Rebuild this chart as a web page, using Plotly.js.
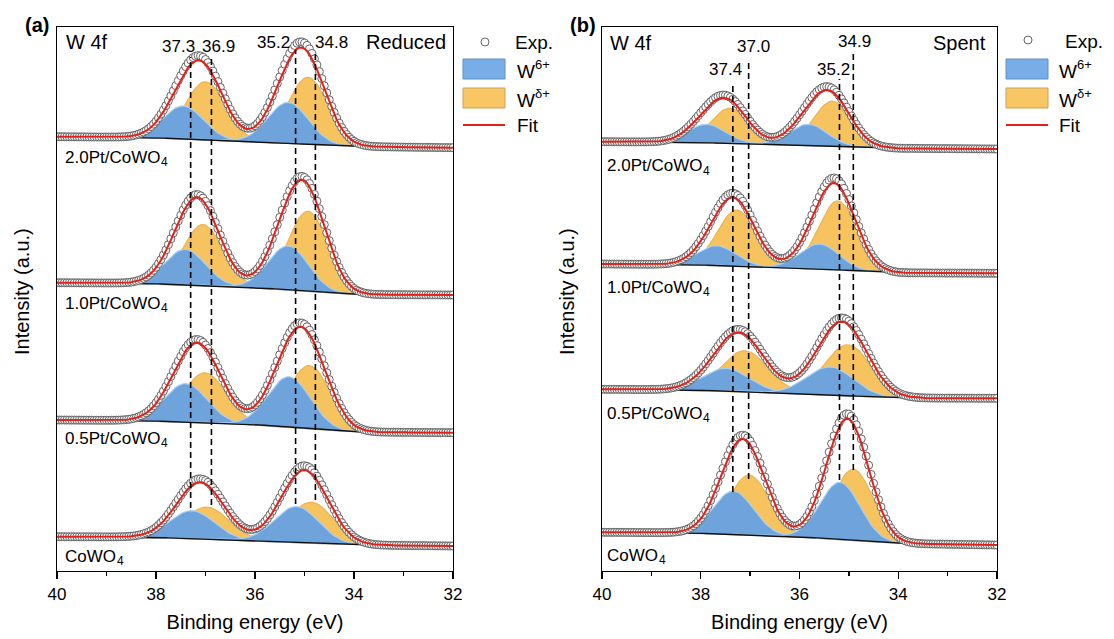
<!DOCTYPE html>
<html>
<head>
<meta charset="utf-8">
<script src="https://cdn.plot.ly/plotly-3.0.1.min.js"></script>
<style>
html,body{margin:0;padding:0;background:#ffffff;}
#chart{width:1114px;height:639px;}
</style>
</head>
<body>
<div id="chart"></div>
<script>
// ---------------- DATA ----------------
const energyStart = 40, energyEnd = 32, energyStep = 0.05;   // binding energy grid (eV)
const xTickVals = [40, 38, 36, 34, 32];
const xMinorTickVals = [39, 37, 35, 33];
const sampleNames = ['2.0Pt/CoWO', '1.0Pt/CoWO', '0.5Pt/CoWO', 'CoWO'];
const sampleSub = '4';
const legendNames = ['Exp.', 'W', 'W', 'Fit'];
const legendSups = ['', '6+', 'δ+', ''];
const bgEnergies = [40, 38.3, 36, 34, 32];

// Panel (a) Reduced : intensity in a.u. (stack offsets included)
const reducedBg = [
  [434.3, 433.7, 429.3, 424.5, 423.3],
  [288.3, 287.8, 283.5, 276.5, 276.0],
  [151.0, 150.5, 146.5, 139.0, 138.3],
  [34.3, 34.0, 30.3, 26.0, 25.0]
];
const reducedW6Pos = [[37.45, 35.33], [37.41, 35.33], [37.40, 35.31], [37.27, 35.16]];
const reducedW6Amp = [[33, 41], [35.6, 44], [38.5, 50.4], [28, 36]];
const reducedW5Pos = [[37.00, 34.93], [37.05, 34.93], [37.01, 34.90], [36.97, 34.86]];
const reducedW5Amp = [[58, 67], [61, 80], [50, 63], [32, 41]];
const reducedFwhm = [0.95, 0.95, 1.0, 1.05];
const reducedExpScale = [1.06, 1.03, 1.04, 1.06];
const reducedMarks = [37.3, 36.88, 35.18, 34.78];
const reducedMarkLabels = ['37.3', '36.9', '35.2', '34.8'];

// Panel (b) Spent
const spentBg = [
  [429.3, 428.8, 426.0, 422.7, 422.0],
  [307.0, 306.5, 303.0, 298.2, 297.7],
  [181.7, 181.2, 177.5, 173.0, 172.7],
  [38.7, 38.2, 34.3, 27.5, 26.0]
];
const spentW6Pos = [[37.88, 35.82], [37.68, 35.59], [37.49, 35.38], [37.34, 35.18]];
const spentW6Amp = [[18.4, 21], [19.7, 25], [22.8, 28], [43.4, 57.2]];
const spentW5Pos = [[37.41, 35.33], [37.27, 35.22], [37.11, 35.02], [37.02, 34.91]];
const spentW5Amp = [[35, 45], [56, 69], [41, 51], [60, 71.1]];
const spentFwhm = [0.9, 0.92, 1.1, 0.95];
const spentExpScale = [1.06, 1.06, 1.05, 1.04];
const spentMarks = [37.35, 37.03, 35.19, 34.91];
const spentMarkLabels = ['37.4', '37.0', '35.2', '34.9'];

// ---------------- helpers ----------------
const W = 1114, H = 639;
const PX = v => v / W;
const PY = v => 1 - v / H;
const BOTTOM = 571, TOP = 27;
const HY = v => BOTTOM - v;              // pixel row -> y value (axis range 0..544)
const FONT = 'Liberation Sans, Arial, Helvetica, sans-serif';
const measureCtx = document.createElement('canvas').getContext('2d');
function textWidth(t, size) {
  measureCtx.font = size + 'px "Liberation Sans", Arial, sans-serif';
  return measureCtx.measureText(t).width;
}

const energies = [];
for (let k = 0; ; k++) {
  const e = +(energyStart - k * energyStep).toFixed(3);
  if (e < energyEnd - 1e-9) break;
  energies.push(e);
}
function bgAt(e, bg) {
  for (let k = 0; k < bgEnergies.length - 1; k++) {
    const e0 = bgEnergies[k], e1 = bgEnergies[k + 1];
    if (e <= e0 && e >= e1) return bg[k] + (bg[k + 1] - bg[k]) * (e0 - e) / (e0 - e1);
  }
  return bg[bg.length - 1];
}
function peak(e, c, a, w) { return a * Math.exp(-4 * Math.LN2 * (e - c) * (e - c) / (w * w)); }

const BLUE = '#6fa3db', BLUE_EDGE = '#a8d0f6', ORANGE = '#f7c35f', ORANGE_EDGE = '#eeb44e';
const traces = [];

function addPanel(xa, ya, bgs, w6p, w6a, w5p, w5a, fw, es) {
  for (let i = 0; i < bgs.length; i++) {
    const bg = bgs[i], w = fw[i];
    const comp = (pos, amp, col, edge) => {
      for (let j = 0; j < pos.length; j++) {
        const xs = energies.filter(e => Math.abs(e - pos[j]) <= 2.3 * w);
        const top = xs.map(e => bgAt(e, bg) + peak(e, pos[j], amp[j], w));
        const base = xs.map(e => bgAt(e, bg)).reverse();
        traces.push({
          type: 'scatter', mode: 'lines', xaxis: xa, yaxis: ya,
          x: xs.concat(xs.slice().reverse()), y: top.concat(base),
          fill: 'toself', fillcolor: col, line: {color: edge, width: 1.2},
          hoverinfo: 'skip', showlegend: false
        });
      }
    };
    comp(w5p[i], w5a[i], ORANGE, ORANGE_EDGE);
    comp(w6p[i], w6a[i], BLUE, BLUE_EDGE);
    const sumComp = e => peak(e, w6p[i][0], w6a[i][0], w) + peak(e, w6p[i][1], w6a[i][1], w) +
                         peak(e, w5p[i][0], w5a[i][0], w) + peak(e, w5p[i][1], w5a[i][1], w);
    traces.push({
      type: 'scatter', mode: 'lines', xaxis: xa, yaxis: ya,
      x: energies, y: energies.map(e => bgAt(e, bg)),
      line: {color: '#111111', width: 1.4}, hoverinfo: 'skip', showlegend: false
    });
    traces.push({
      type: 'scatter', mode: 'markers', xaxis: xa, yaxis: ya, name: 'Exp.',
      x: energies, y: energies.map(e => bgAt(e, bg) + es[i] * sumComp(e)),
      marker: {symbol: 'circle', size: 8, color: 'rgba(255,255,255,0.9)', line: {color: '#555555', width: 0.9}},
      hoverinfo: 'skip', showlegend: false
    });
    traces.push({
      type: 'scatter', mode: 'lines', xaxis: xa, yaxis: ya, name: 'Fit',
      x: energies, y: energies.map(e => bgAt(e, bg) + sumComp(e)),
      line: {color: '#e3211c', width: 2}, hoverinfo: 'skip', showlegend: false
    });
  }
}
addPanel('x', 'y', reducedBg, reducedW6Pos, reducedW6Amp, reducedW5Pos, reducedW5Amp, reducedFwhm, reducedExpScale);
addPanel('x2', 'y2', spentBg, spentW6Pos, spentW6Amp, spentW5Pos, spentW5Amp, spentFwhm, spentExpScale);

// ---------------- layout ----------------
const shapes = [];
function dashed(xref, yref, marks, tops, bottoms) {
  marks.forEach((m, k) => shapes.push({
    type: 'line', xref: xref, yref: yref, x0: m, x1: m, y0: HY(bottoms[k]), y1: HY(tops[k]),
    line: {color: '#000', width: 1.6, dash: '6px,4px'}, layer: 'above'
  }));
}
dashed('x', 'y', reducedMarks, [57, 56, 50, 51], [508, 505, 504, 500]);
dashed('x2', 'y2', spentMarks, [83, 60, 79, 50], [492, 479, 480, 470]);

const annotations = [];
function txt(text, x, y, size, xanchor, extra) {
  annotations.push(Object.assign({
    text: text, xref: 'paper', yref: 'paper', x: PX(x), y: PY(y),
    xanchor: xanchor || 'center', yanchor: 'middle', showarrow: false, borderpad: 0,
    font: {family: FONT, size: size, color: '#000'}
  }, extra || {}));
}
// text with a smaller raised / lowered part drawn as its own text
function txtScript(main, script, x, y, size, scriptSize, dy) {
  txt(main, x, y, size, 'left');
  if (script) txt(script, x + textWidth(main, size) + 0.5, y + dy, scriptSize, 'left');
}
// panel letters and y titles
txt('<b>(a)</b>', 37, 25, 20);
txt('<b>(b)</b>', 583, 25, 20);
txt('Intensity (a.u.)', 22, 292, 20, 'center', {textangle: -90});
txt('Intensity (a.u.)', 567, 292, 20, 'center', {textangle: -90});
// in-plot headers
txt('W 4f', 65, 42, 20, 'left');
txt('Reduced', 447, 42, 20, 'right');
txt('W 4f', 609, 43, 20, 'left');
txt('Spent', 987, 43, 20, 'right');
// peak labels
const redLabPos = [[178, 47], [218, 47], [273, 42], [331, 42]];
reducedMarkLabels.forEach((t, k) => txt(t, redLabPos[k][0], redLabPos[k][1], 17));
const spLabPos = [[725, 69], [753, 47], [833, 69], [854, 41]];
spentMarkLabels.forEach((t, k) => txt(t, spLabPos[k][0], spLabPos[k][1], 17));
// sample labels
const redSampleY = [157, 303, 438, 556];
const spSampleY = [166, 287, 413, 555];
sampleNames.forEach((t, k) => {
  txtScript(t, sampleSub, 64, redSampleY[k], 17, 12, 5);
  txtScript(t, sampleSub, 606, spSampleY[k], 17, 12, 5);
});
// legends (manual)
function legend(bx0, bx1, mx, my, expX, textX) {
  shapes.push({type: 'circle', xref: 'paper', yref: 'paper', x0: PX(mx - 4), x1: PX(mx + 4), y0: PY(my + 4), y1: PY(my - 4),
               fillcolor: '#ffffff', line: {color: '#555555', width: 0.9}});
  shapes.push({type: 'rect', xref: 'paper', yref: 'paper', x0: PX(bx0), x1: PX(bx1), y0: PY(79), y1: PY(59),
               fillcolor: '#78aee8', line: {color: '#5f8fc4', width: 1}});
  shapes.push({type: 'rect', xref: 'paper', yref: 'paper', x0: PX(bx0), x1: PX(bx1), y0: PY(108), y1: PY(88),
               fillcolor: '#f9c664', line: {color: '#c9a15a', width: 1}});
  shapes.push({type: 'line', xref: 'paper', yref: 'paper', x0: PX(bx0), x1: PX(bx1), y0: PY(125), y1: PY(125),
               line: {color: '#e3211c', width: 2}});
  const rows = [my + 1, 71, 100, 126];
  legendNames.forEach((t, k) => {
    txtScript(t, legendSups[k], k === 0 ? expX : textX, rows[k], 19, 13, -7);
  });
}
legend(463, 505, 485, 42, 514, 516);
legend(1006, 1048, 1028, 40, 1064, 1058);

const xaxisBase = {
  range: [energyStart, energyEnd], tickmode: 'array', tickvals: xTickVals, ticktext: xTickVals.map(String),
  ticks: 'outside', ticklen: 7, tickwidth: 1.3, tickcolor: '#000',
  minor: {tickmode: 'array', tickvals: xMinorTickVals, ticks: 'outside', ticklen: 4, tickwidth: 1.3, tickcolor: '#000'},
  showline: true, linecolor: '#000', linewidth: 1.3, mirror: true, showgrid: false, zeroline: false,
  tickfont: {family: FONT, size: 17, color: '#000'},
  title: {text: 'Binding energy (eV)', font: {family: FONT, size: 20, color: '#000'}, standoff: 12}
};
const yaxisBase = {
  range: [0, BOTTOM - TOP], showticklabels: false, ticks: '', showline: true, mirror: true,
  linecolor: '#000', linewidth: 1.3, showgrid: false, zeroline: false
};

const layout = {
  width: W, height: H, margin: {l: 0, r: 0, t: 0, b: 0},
  paper_bgcolor: '#ffffff', plot_bgcolor: '#ffffff', showlegend: false,
  font: {family: FONT, color: '#000', size: 17},
  xaxis: Object.assign({}, xaxisBase, {domain: [PX(57), PX(453)], anchor: 'y'}),
  yaxis: Object.assign({}, yaxisBase, {domain: [PY(BOTTOM), PY(TOP)], anchor: 'x'}),
  xaxis2: Object.assign({}, xaxisBase, {domain: [PX(602), PX(997)], anchor: 'y2'}),
  yaxis2: Object.assign({}, yaxisBase, {domain: [PY(BOTTOM), PY(TOP)], anchor: 'x2'}),
  shapes: shapes, annotations: annotations
};

Plotly.newPlot('chart', traces, layout, {staticPlot: true, displayModeBar: false});
</script>
</body>
</html>
